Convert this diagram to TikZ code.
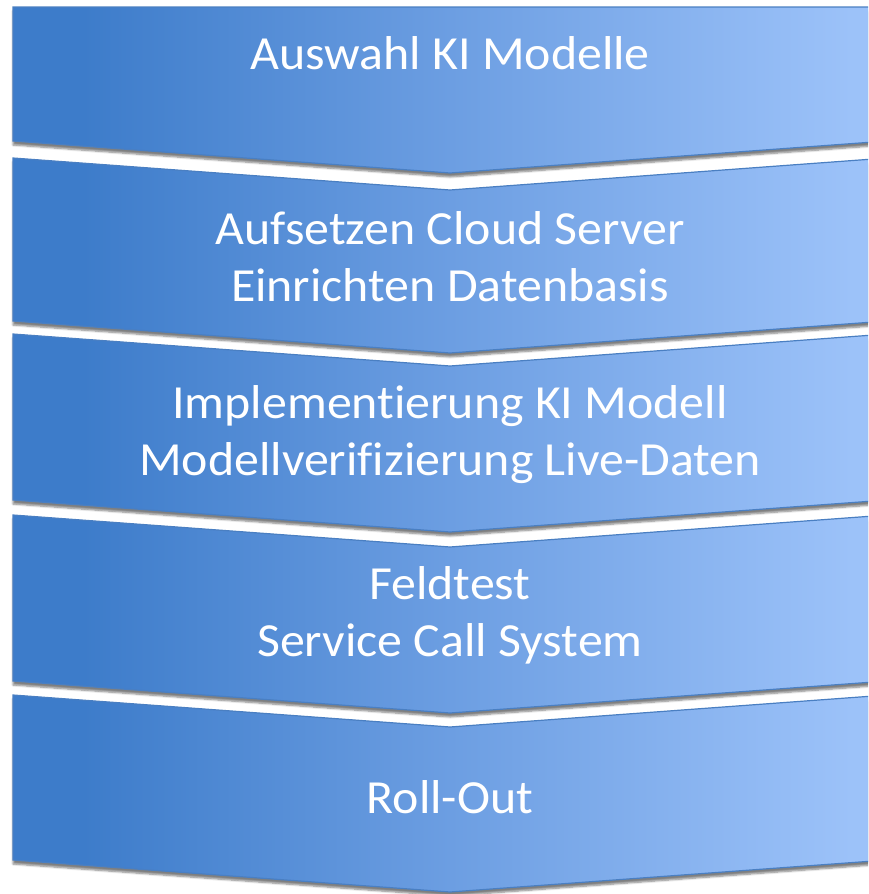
\documentclass[tikz,border=0pt]{standalone}
\usepackage{fontspec}
\setmainfont{Carlito}[Ligatures=NoCommon, FakeStretch=1.05]
\usetikzlibrary{shadows,shadows.blur}

\definecolor{stepdark}{HTML}{3D7CCA}
\definecolor{stepmid}{HTML}{6C9EE2}
\definecolor{steplight}{HTML}{9CC2F9}
\definecolor{stepline}{HTML}{4A7FC2}

\pgfdeclarehorizontalshading{stepshade}{100bp}{color(0bp)=(stepdark); color(29bp)=(stepdark);
  color(50bp)=(stepmid); color(73bp)=(steplight); color(100bp)=(steplight)}

\tikzset{
  stepbox/.style={shading=stepshade, draw=stepline, line width=1.2pt,
    blur shadow={shadow xshift=0pt, shadow yshift=-4pt, shadow blur steps=6, shadow opacity=50}},
  steptext/.style={text=white, align=center, inner sep=0pt,
    font=\fontsize{47.5}{57}\selectfont}
}

\begin{document}
\begin{tikzpicture}[x=1pt,y=-1pt]
      \useasboundingbox (0,0) rectangle (868,894);
      \clip (0,0) rectangle (868,894);
      % the five steps
      \shadedraw[stepbox] (13,7) -- (887,7) -- (887,141) -- (450,173) -- (13,141) -- cycle;
      \shadedraw[stepbox] (13,158) -- (450,190) -- (887,158) -- (887,321) -- (450,353) -- (13,321) -- cycle;
      \shadedraw[stepbox] (13,334) -- (450,366) -- (887,334) -- (887,500) -- (450,532) -- (13,500) -- cycle;
      \shadedraw[stepbox] (13,515) -- (450,547) -- (887,515) -- (887,681) -- (450,713) -- (13,681) -- cycle;
      \shadedraw[stepbox] (13,695) -- (450,727) -- (887,695) -- (887,860) -- (450,892) -- (13,860) -- cycle;
      % labels
      \node[steptext] (modelle) at (450,53) {Auswahl KI Modelle};
      \node[steptext] (server) at (450,257) {Aufsetzen Cloud Server\\Einrichten Datenbasis};
      \node[steptext] (impl) at (450,435) {Implementierung KI Modell\\Modellverifizierung Live-Daten};
      \node[steptext] (feldtest) at (450,615) {Feldtest\\Service Call System};
      \node[steptext] (rollout) at (450,797) {Roll-Out};
    \end{tikzpicture}
\end{document}
